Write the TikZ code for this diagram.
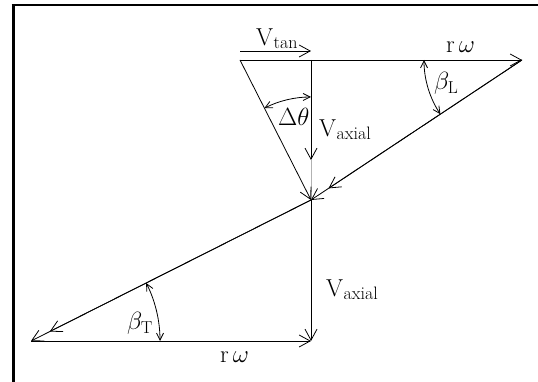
\documentclass[tikz,border=0pt]{standalone}
\usetikzlibrary{arrows.meta,calc}
\newcommand{\Vlab}[1]{V\kern0.5pt\raisebox{-2.5pt}{\fontsize{18}{18}\selectfont #1}}
\begin{document}
\begin{tikzpicture}[x=1pt,y=1pt,
  base/.style={line width=0.8pt},
  vec/.style={base, -{Straight Barb[length=11pt,width=12pt]}},
  ang/.style={base, {Straight Barb[length=7pt,width=7pt]}-{Straight Barb[length=7pt,width=7pt]}},
  lbl/.style={inner sep=0pt, anchor=base west, font=\fontsize{24.5}{24.5}\selectfont}]
\useasboundingbox (0,0) rectangle (538,382);
% frame
\draw[line width=3pt] (13,0) -- (13,378);
\draw[line width=2pt] (11.5,377) -- (538,377);
% points
\coordinate (A) at (240,322);
\coordinate (B) at (311,322);
\coordinate (C) at (522,322);
\coordinate (M) at (311,182);
\coordinate (D) at (31,41);
\coordinate (E) at (311,41);
\coordinate (K) at (311,222);
\coordinate (T1) at (240,331);
\coordinate (T2) at (311,331);
\coordinate (M2) at ($(M)!21pt!(C)$);
\coordinate (D2) at ($(D)!21pt!(M)$);
% vectors
\draw[vec] (T1) -- (T2);
\draw[vec] (A) -- (C);
\draw[vec] (B) -- (K);
\draw[base, gray!60] (K) -- (M);
\draw[vec] (A) -- (M);
\draw[vec] (C) -- (M);
\draw[vec] (C) -- (M2);
\draw[vec] (M) -- (D);
\draw[vec] (M) -- (D2);
\draw[vec] (M) -- (E);
\draw[vec] (D) -- (E);
% angle arcs
\draw[ang] ($(M)+(116.9:103)$) arc[start angle=116.9,end angle=90,radius=103];
\draw[ang] ($(C)+(180:98)$) arc[start angle=180,end angle=213.6,radius=98];
\draw[ang] ($(D)+(26.7:129)$) arc[start angle=26.7,end angle=0,radius=129];
% labels
\node[lbl] (lvtan) at (256,336) {\Vlab{tan}};
\node[lbl] (lrw1) at (446,329) {r\,$\omega$};
\node[lbl] (ldt) at (278,256) {$\Delta\theta$};
\node[lbl] (lva1) at (319,245) {\Vlab{axial}};
\node[lbl] (lbl1) at (434,292) {$\beta_{\mathrm{L}}$};
\node[lbl] (lva2) at (326,85) {\Vlab{axial}};
\node[lbl] (lbt) at (127,52) {$\beta_{\mathrm{T}}$};
\node[lbl] (lrw2) at (220,19) {r\,$\omega$};
\end{tikzpicture}
\end{document}
